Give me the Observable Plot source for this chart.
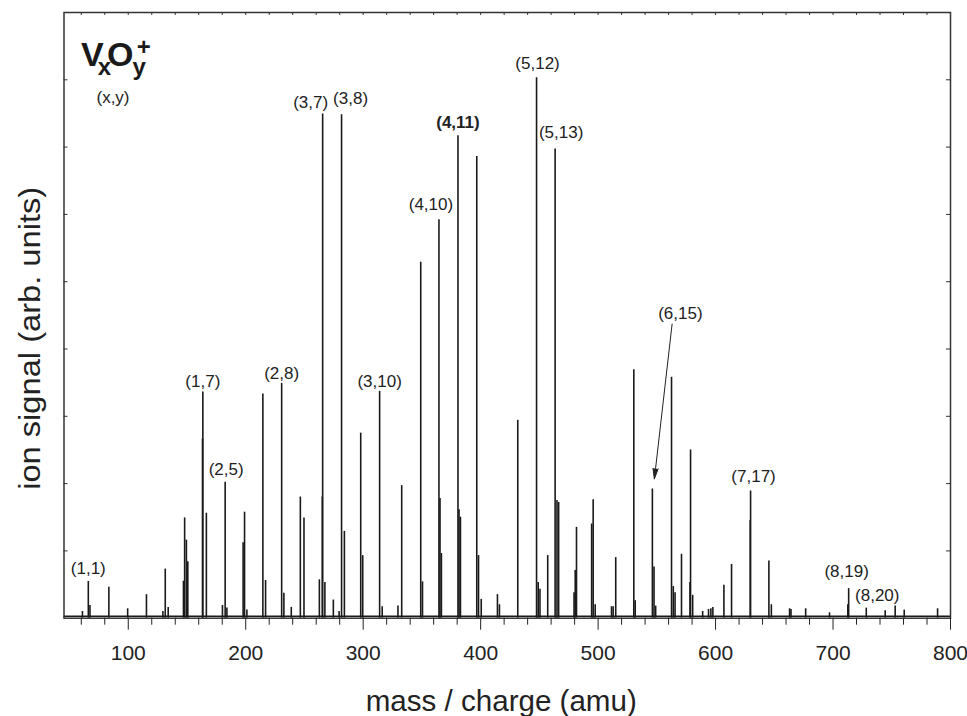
<!DOCTYPE html>
<html>
<head>
<meta charset="utf-8">
<script src="https://cdn.jsdelivr.net/npm/d3@7"></script>
<script src="https://cdn.jsdelivr.net/npm/@observablehq/plot@0.6"></script>
<style>
  html, body { margin: 0; padding: 0; background: #fff; }
  #chart { width: 967px; height: 716px; }
</style>
</head>
<body>
<div id="chart"></div>
<script>
// ---- Data ----
// peak positions (mass / charge, amu)
const peakMass = [61, 66, 67.4, 83.5, 99.5, 115.5, 129.5, 131.5, 134, 147, 148, 149.5, 150.7,
  163.2, 163.5, 166.5, 180.2, 182.5, 184, 197.8, 199, 201, 214.6, 216.9, 230.6, 232.5, 238.8,
  246.5, 249.6, 262.7, 265.2, 265.5, 267.4, 274.6, 279.5, 281.6, 284, 297.9, 299.6, 314, 316.2,
  329.6, 332.8, 349, 350.5, 364.5, 365.4, 366.6, 380.7, 381.6, 382.8, 396.7, 398.2, 400.5,
  414.3, 416, 431.6, 447.6, 449, 450.5, 457.1, 463.4, 465, 466.4, 479.5, 480.5, 481.6, 494.5,
  495.8, 497.5, 511.4, 512.8, 515, 530.4, 531.6, 546.2, 547.6, 549, 562.5, 564, 565.5, 571,
  578.2, 578.7, 580.5, 589, 594, 596, 597.7, 607.1, 613.6, 629.5, 629.8, 645.4, 647.5, 663,
  664.2, 676.7, 697, 712.6, 713.3, 728.3, 744.4, 752.9, 760.6, 789];
// peak heights (ion signal, arb. units)
const peakHeight = [0.10, 0.545, 0.19, 0.46, 0.14, 0.35, 0.10, 0.73, 0.16, 0.55, 1.49, 1.16, 0.84,
  2.66, 3.36, 1.56, 0.19, 2.02, 0.15, 1.12, 1.575, 0.12, 3.33, 0.56, 3.49, 0.37, 0.16,
  1.80, 1.49, 0.57, 1.80, 7.49, 0.53, 0.27, 0.10, 7.48, 1.29, 2.75, 0.93, 3.37, 0.17,
  0.18, 1.97, 5.29, 0.54, 5.92, 1.78, 0.96, 7.17, 1.61, 1.50, 6.86, 0.93, 0.28,
  0.35, 0.20, 2.94, 8.03, 0.53, 0.43, 0.93, 6.97, 1.75, 1.72, 0.38, 0.71, 1.35, 1.40,
  1.76, 0.20, 0.17, 0.17, 0.90, 3.69, 0.26, 1.92, 0.76, 0.18, 3.58, 0.47, 0.38, 0.95,
  0.53, 2.50, 0.34, 0.10, 0.13, 0.14, 0.16, 0.49, 0.80, 1.45, 1.89, 0.85, 0.20, 0.14,
  0.13, 0.14, 0.08, 0.20, 0.44, 0.15, 0.11, 0.18, 0.12, 0.14];
// baseline (noise floor) level
const baselineLevel = [0.03];
// labelled clusters V_x O_y (x, y)
const labelIons = [[1,1],[1,7],[2,5],[2,8],[3,7],[3,8],[3,10],[4,10],[4,11],[5,12],[5,13],[6,15],[7,17],[8,19],[8,20]];
const arrowIons = [[6,15]];
const boldLabels = ["(4,11)"];
// axis ticks
const xMajorTicks = [100, 200, 300, 400, 500, 600, 700, 800];
const xMinorTicks = d3.range(60, 800, 20).filter(v => v % 100 !== 0);
const xTopTicks = d3.range(60, 800, 20);
const yTicks = [1, 2, 3, 4, 5, 6, 7, 8];
const xTitle = "mass / charge (amu)";
const yTitle = "ion signal (arb. units)";
const formulaKey = "VxOy+";
const legendText = "(x,y)";

// ---- Layout / style (not data) ----
const W = 967, H = 716;
const mL = 63.5, mR = 17, mT = 12, mB = 98.3;
const plotW = W - mL - mR, plotH = H - mT - mB;
const labelOffset = {
  "(1,1)": [0, -13], "(1,7)": [0, -11], "(2,5)": [1, -13], "(2,8)": [0, -10],
  "(3,7)": [-12, -12], "(3,8)": [9, -16], "(3,10)": [0, -10], "(4,10)": [-8, -15],
  "(4,11)": [0, -13], "(5,12)": [1, -14], "(5,13)": [6, -17], "(6,15)": [28, -175],
  "(7,17)": [3, -14], "(8,19)": [-2, -17], "(8,20)": [11, -13]
};

const peaks = peakMass.map((m, i) => ({mass: m, h: peakHeight[i]}));
function ionPeak([vx, oy]) {
  const nominal = 51 * vx + 16 * oy;
  const near = peaks.filter(p => Math.abs(p.mass - nominal) <= 3);
  const best = near.reduce((a, b) => (b.h > a.h ? b : a));
  return {text: `(${vx},${oy})`, mass: best.mass, h: best.h};
}
const labels = labelIons.map(ionPeak);
const arrows = arrowIons.map(ionPeak);

const ink = "#1a1a1a";
const font = "'Liberation Sans', Arial, Helvetica, sans-serif";

const labelMarks = labels.map(l => Plot.text([l], {
  x: "mass", y: "h", text: "text",
  dx: labelOffset[l.text][0], dy: labelOffset[l.text][1],
  lineAnchor: "middle", textAnchor: "middle",
  fontSize: 17, fill: "#222",
  fontWeight: boldLabels.includes(l.text) ? "bold" : "normal"
}));

const chart = Plot.plot({
  width: W, height: H,
  marginLeft: mL, marginRight: mR, marginTop: mT, marginBottom: mB,
  x: {domain: [45.3, 800]},
  y: {domain: [0, 9], axis: null},
  style: {fontFamily: font, fontSize: "21px", color: "#222", background: "#fff"},
  marks: [
    Plot.ruleY(baselineLevel, {stroke: ink, strokeWidth: 1.4}),
    Plot.ruleX(peaks, {x: "mass", y1: 0, y2: "h", stroke: ink, strokeWidth: 1.6}),
    Plot.frame({stroke: "#333", strokeWidth: 1.5}),
    Plot.axisX(xMajorTicks, {anchor: "bottom", label: null, tickSize: 12, tickPadding: 15.3, color: "#222", fontSize: 21}),
    Plot.axisX(xMinorTicks, {anchor: "bottom", label: null, tickSize: 7, tickFormat: () => "", color: "#222"}),
    Plot.tickX(xTopTicks, {x: d => d, insetBottom: plotH - 3, stroke: "#333"}),
    Plot.tickY(yTicks, {y: d => d, insetRight: plotW - 4, stroke: "#333"}),
    Plot.tickY(yTicks, {y: d => d, insetLeft: plotW - 4, stroke: "#333"}),
    ...labelMarks,
    Plot.arrow(arrows, {
      x1: d => d.mass + 16.8, y1: d => d.h + 2.45,
      x2: d => d.mass + 1.7, y2: d => d.h + 0.15,
      stroke: "#222", fill: "#222", strokeWidth: 1, headLength: 16, headAngle: 28
    }),
    Plot.text([formulaKey], {frameAnchor: "top-left", dx: 17, dy: 53, lineAnchor: "bottom", textAnchor: "start",
      fontSize: 34, fontWeight: "bold", fill: "#1a1a1a"}),
    Plot.text([legendText], {frameAnchor: "top-left", dx: 49, dy: 90, lineAnchor: "bottom", textAnchor: "middle", fontSize: 17, fill: "#222"}),
    Plot.text([xTitle], {frameAnchor: "bottom", dx: -6, dy: 92.3, lineAnchor: "bottom", textAnchor: "middle", fontSize: 29, fill: "#222"}),
    Plot.text([yTitle], {frameAnchor: "left", dx: -33.5, dy: 23, rotate: -90, lineAnchor: "middle", textAnchor: "middle", fontSize: 29, fill: "#222"})
  ]
});
document.getElementById("chart").appendChild(chart);

// post-style: stretch axis titles to the reference lengths, and typeset V_x O_y^+ with sub/superscripts
d3.select(chart).selectAll("text").each(function() {
  const t = this.textContent;
  if (t === yTitle) { this.setAttribute("textLength", 303); this.setAttribute("lengthAdjust", "spacingAndGlyphs"); }
  if (t === xTitle) { this.setAttribute("textLength", 271); this.setAttribute("lengthAdjust", "spacingAndGlyphs"); }
  if (t === formulaKey) {
    const el = d3.select(this);
    el.text(null);
    const parts = [
      {s: "V", fs: 34, dx: 0, dy: 0},
      {s: "x", fs: 24, dx: -6, dy: 9},
      {s: "O", fs: 34, dx: -4, dy: -9},
      {s: "y", fs: 24, dx: -1, dy: 9},
      {s: "+", fs: 24, dx: -9, dy: -20}
    ];
    for (const p of parts) {
      el.append("tspan").attr("font-size", p.fs).attr("dx", p.dx).attr("dy", p.dy).text(p.s);
    }
  }
});
</script>
</body>
</html>
